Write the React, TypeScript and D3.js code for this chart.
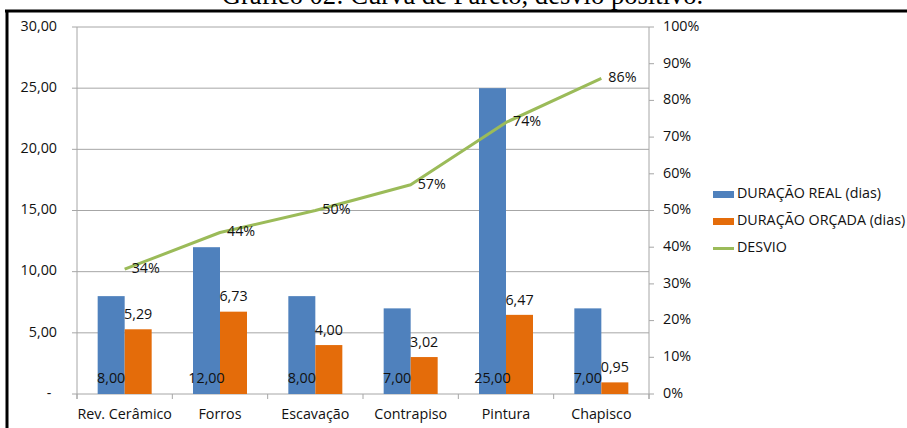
import React from "react";
import * as d3 from "d3";

const categories = ["Rev. Cerâmico", "Forros", "Escavação", "Contrapiso", "Pintura", "Chapisco"];
const realValues = [8, 12, 8, 7, 25, 7];
const budgetValues = [5.29, 6.73, 4.0, 3.02, 6.47, 0.95];
const desvioValues = [0.34, 0.44, 0.5, 0.57, 0.74, 0.86];
const leftTicks = [0, 5, 10, 15, 20, 25, 30];
const rightTicks = [0, 0.1, 0.2, 0.3, 0.4, 0.5, 0.6, 0.7, 0.8, 0.9, 1.0];
const seriesNames = ["DURAÇÃO REAL (dias)", "DURAÇÃO ORÇADA (dias)", "DESVIO"];
const title = "Gráfico 02: Curva de Pareto, desvio positivo.";

const W = 907;
const H = 428;
const FONT = "'Open Sans', sans-serif";
const FS = 14.3;
const BLUE = "#4F81BD";
const ORANGE = "#E46C0A";
const GREEN = "#9BBB59";
const GRID = "#A6A6A6";
const TEXT = "#111";

const fmt = (v: number) => v.toFixed(2).replace(".", ",");
const pct = (v: number) => `${Math.round(v * 100)}%`;

export default function App() {
  const plotL = 77, plotR = 649, plotT = 27, plotB = 394;
  const x = d3.scaleBand<string>().domain(categories).range([plotL, plotR]).padding(0);
  const yL = d3.scaleLinear().domain([0, 30]).range([plotB, plotT]);
  const yR = d3.scaleLinear().domain([0, 1]).range([plotB, plotT]);
  const barW = 27;
  const cx = (c: string) => (x(c) as number) + x.bandwidth() / 2;
  const line = d3
    .line<number>()
    .x((_, i) => cx(categories[i]))
    .y((d) => yR(d));
  const boundaries = categories.map((c) => x(c) as number).concat([plotR]);

  return (
    <div style={{ position: "absolute", left: 0, top: 0 }}>
      <svg width={W} height={H} style={{ display: "block", background: "#fff" }}>
        <rect x={0} y={0} width={W} height={H} fill="#fff" />
        {/* title */}
        <text x={462.5} y={4} textAnchor="middle" fontFamily="'Liberation Serif', 'Times New Roman', serif" fontSize={26.6} fill="#000">
          {title}
        </text>
        {/* frame */}
        <line x1={5} x2={W} y1={11} y2={11} stroke="#000" strokeWidth={3} />
        <line x1={7} x2={7} y1={10} y2={H} stroke="#000" strokeWidth={3} />

        {/* gridlines */}
        {leftTicks.map((t) => (
          <line key={"g" + t} x1={plotL - 5} x2={plotR} y1={yL(t)} y2={yL(t)} stroke={GRID} strokeWidth={1} />
        ))}
        {/* left axis line */}
        <line x1={plotL} x2={plotL} y1={plotT} y2={plotB + 5} stroke={GRID} strokeWidth={1} />
        {/* right axis line */}
        <line x1={plotR} x2={plotR} y1={plotT} y2={plotB + 5} stroke={GRID} strokeWidth={1} />
        {rightTicks.map((t) => (
          <line key={"rt" + t} x1={plotR} x2={plotR + 5} y1={yR(t)} y2={yR(t)} stroke={GRID} strokeWidth={1} />
        ))}
        {/* bottom ticks */}
        {boundaries.map((b, i) => (
          <line key={"bt" + i} x1={b} x2={b} y1={plotB} y2={plotB + 5} stroke={GRID} strokeWidth={1} />
        ))}

        {/* left tick labels */}
        {leftTicks.map((t) => (
          <text key={"ll" + t} x={t === 0 ? 49 : 57} y={yL(t)} textAnchor={t === 0 ? "middle" : "end"} dominantBaseline="middle" fontFamily={FONT} fontSize={FS} fill={TEXT}>
            {t === 0 ? "-" : fmt(t)}
          </text>
        ))}
        {/* right tick labels */}
        {rightTicks.map((t) => (
          <text key={"rl" + t} x={663} y={yR(t)} textAnchor="start" dominantBaseline="middle" fontFamily={FONT} fontSize={FS} fill={TEXT}>
            {pct(t)}
          </text>
        ))}

        {/* bars */}
        {categories.map((c, i) => (
          <g key={"b" + c}>
            <rect x={cx(c) - barW} y={yL(realValues[i])} width={barW} height={plotB - yL(realValues[i])} fill={BLUE} />
            <rect x={cx(c)} y={yL(budgetValues[i])} width={barW} height={plotB - yL(budgetValues[i])} fill={ORANGE} />
          </g>
        ))}

        {/* category labels */}
        {categories.map((c) => (
          <text key={"c" + c} x={cx(c)} y={415} textAnchor="middle" dominantBaseline="middle" fontFamily={FONT} fontSize={FS} fill={TEXT}>
            {c}
          </text>
        ))}

        {/* bar value labels */}
        {categories.map((c, i) => (
          <g key={"v" + c}>
            <text x={cx(c) - barW / 2} y={379} textAnchor="middle" dominantBaseline="middle" fontFamily={FONT} fontSize={FS} fill={TEXT}>
              {fmt(realValues[i])}
            </text>
            <text x={cx(c) + barW / 2} y={yL(budgetValues[i]) - 14} textAnchor="middle" dominantBaseline="middle" fontFamily={FONT} fontSize={FS} fill={TEXT}>
              {fmt(budgetValues[i])}
            </text>
          </g>
        ))}

        {/* line */}
        <path d={line(desvioValues) || ""} fill="none" stroke={GREEN} strokeWidth={3} strokeLinejoin="round" />
        {desvioValues.map((v, i) => (
          <text key={"p" + i} x={cx(categories[i]) + 7} y={yR(v)} textAnchor="start" dominantBaseline="middle" fontFamily={FONT} fontSize={FS} fill={TEXT}>
            {pct(v)}
          </text>
        ))}

        {/* legend */}
        <rect x={713} y={191} width={21} height={7} fill={BLUE} />
        <text x={737} y={194.5} dominantBaseline="middle" fontFamily={FONT} fontSize={FS} fill={TEXT}>{seriesNames[0]}</text>
        <rect x={713} y={218} width={21} height={7} fill={ORANGE} />
        <text x={737} y={221.5} dominantBaseline="middle" fontFamily={FONT} fontSize={FS} fill={TEXT}>{seriesNames[1]}</text>
        <line x1={713} x2={734} y1={248.5} y2={248.5} stroke={GREEN} strokeWidth={3} />
        <text x={737} y={248.5} dominantBaseline="middle" fontFamily={FONT} fontSize={FS} fill={TEXT}>{seriesNames[2]}</text>
      </svg>
    </div>
  );
}
